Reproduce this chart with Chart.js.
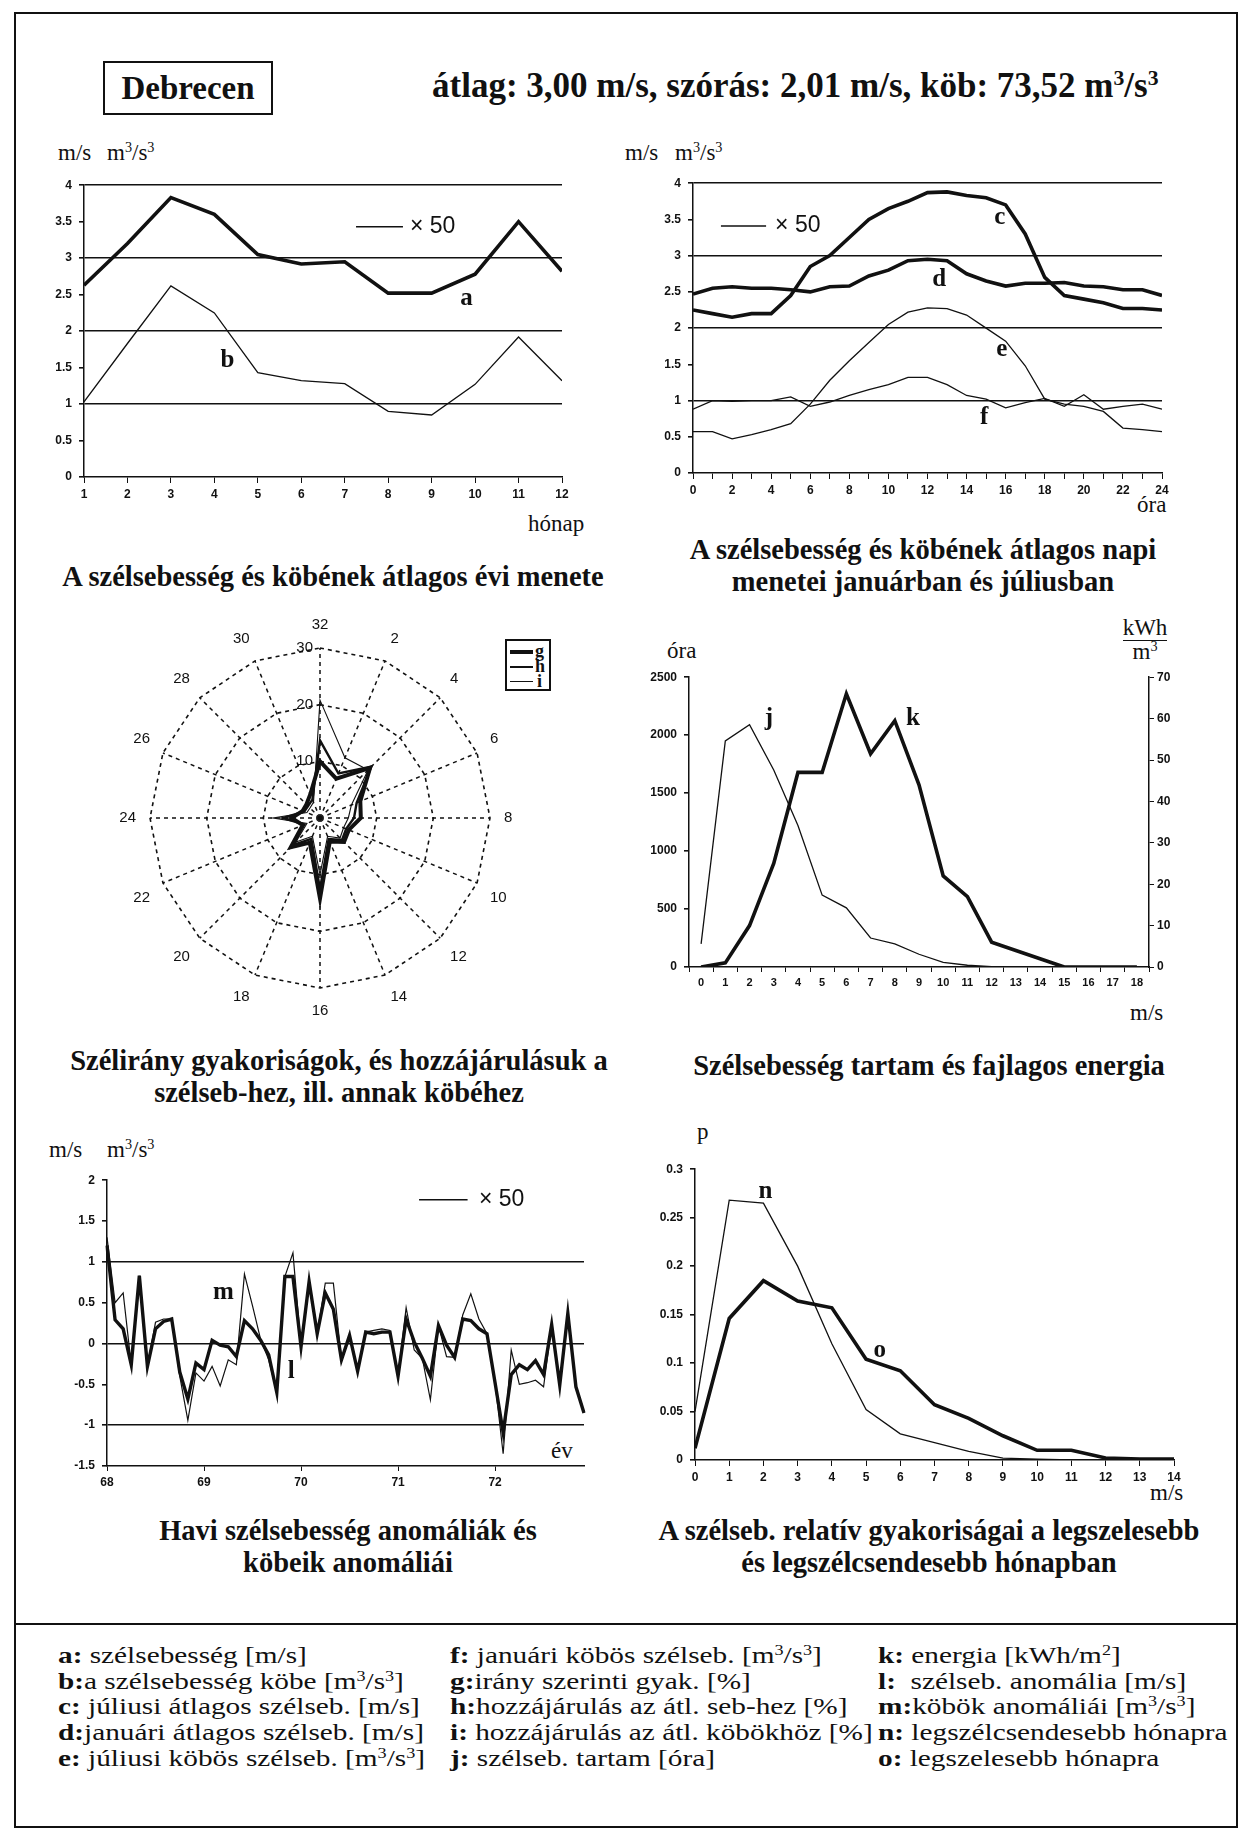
<!DOCTYPE html>
<html>
<head>
<meta charset="utf-8">
<script src="https://cdn.jsdelivr.net/npm/chart.js@4/dist/chart.umd.min.js"></script>
<style>
  body { margin: 0; background: #fff; }
  #page { position: relative; width: 1244px; height: 1832px; background: #fff; color: #111;
          font-family: "Liberation Serif", "DejaVu Serif", serif; overflow: hidden; }
  .box { position: absolute; }
  .t { position: absolute; white-space: nowrap; line-height: 1; }
  .cap { position: absolute; font-weight: bold; font-size: 28.5px; text-align: center; line-height: 31.5px; white-space: nowrap; }
  .unit { position: absolute; font-size: 23px; white-space: nowrap; line-height: 1; }
  sup { font-size: 0.62em; vertical-align: 0.55em; line-height: 0; }
  .leg { position: absolute; font-size: 24px; line-height: 25.7px; white-space: nowrap; transform: scaleX(1.22); transform-origin: 0 0; }
  .leg b { font-weight: bold; }
</style>
</head>
<body>
<div id="page">
  <div class="box" style="left:14px;top:12px;width:1220px;height:1812px;border:2px solid #111;"></div>
  <div class="box" style="left:14px;top:1623px;width:1222px;height:0;border-top:2px solid #111;"></div>

  <div class="box" style="left:103px;top:61px;width:166px;height:50px;border:2px solid #111;font-weight:bold;font-size:33px;line-height:50px;text-align:center;">Debrecen</div>
  <div class="t" style="left:432px;top:68px;font-weight:bold;font-size:35px;">átlag: 3,00 m/s, szórás: 2,01 m/s, köb: 73,52 m<sup>3</sup>/s<sup>3</sup></div>

  <!-- unit labels -->
  <div class="unit" style="left:58px;top:141px;">m/s</div>
  <div class="unit" style="left:107px;top:141px;">m<sup>3</sup>/s<sup>3</sup></div>
  <div class="unit" style="left:625px;top:141px;">m/s</div>
  <div class="unit" style="left:675px;top:141px;">m<sup>3</sup>/s<sup>3</sup></div>
  <div class="unit" style="left:528px;top:512px;">hónap</div>
  <div class="unit" style="left:1137px;top:493px;">óra</div>
  <div class="unit" style="left:667px;top:639px;">óra</div>
  <div class="unit" style="left:1114px;top:616px;text-align:center;width:62px;"><span style="border-bottom:1.5px solid #111;">kWh</span><br><span style="line-height:26px;">m<sup>3</sup></span></div>
  <div class="unit" style="left:1130px;top:1001px;">m/s</div>
  <div class="unit" style="left:49px;top:1138px;">m/s</div>
  <div class="unit" style="left:107px;top:1138px;">m<sup>3</sup>/s<sup>3</sup></div>
  <div class="unit" style="left:551px;top:1439px;">év</div>
  <div class="unit" style="left:697px;top:1120px;">p</div>
  <div class="unit" style="left:1150px;top:1481px;">m/s</div>

  <!-- captions -->
  <div class="cap" style="left:33px;width:600px;top:561px;">A szélsebesség és köbének átlagos évi menete</div>
  <div class="cap" style="left:623px;width:600px;top:534px;">A szélsebesség és köbének átlagos napi<br>menetei januárban és júliusban</div>
  <div class="cap" style="left:39px;width:600px;top:1045px;">Szélirány gyakoriságok, és hozzájárulásuk a<br>szélseb-hez, ill. annak köbéhez</div>
  <div class="cap" style="left:629px;width:600px;top:1050px;">Szélsebesség tartam és fajlagos energia</div>
  <div class="cap" style="left:48px;width:600px;top:1515px;">Havi szélsebesség anomáliák és<br>köbeik anomáliái</div>
  <div class="cap" style="left:629px;width:600px;top:1515px;">A szélseb. relatív gyakoriságai a legszelesebb<br>és legszélcsendesebb hónapban</div>

  <!-- radar legend -->
  <div class="box" style="left:505px;top:639px;width:42px;height:48px;border:2px solid #111;">
    <div class="box" style="left:3px;top:9px;width:23px;border-top:4px solid #111;"></div>
    <div class="box" style="left:3px;top:25px;width:23px;border-top:2.5px solid #111;"></div>
    <div class="box" style="left:3px;top:40px;width:23px;border-top:1.2px solid #111;"></div>
    <div class="t" style="left:28px;top:1px;font-weight:bold;font-size:18px;">g</div>
    <div class="t" style="left:28px;top:16px;font-weight:bold;font-size:18px;">h</div>
    <div class="t" style="left:30px;top:31px;font-weight:bold;font-size:18px;">i</div>
  </div>

  <!-- bottom legend -->
  <div class="leg" style="left:58px;top:1643px;">
    <b>a:</b> szélsebesség [m/s]<br>
    <b>b:</b>a szélsebesség köbe [m<sup>3</sup>/s<sup>3</sup>]<br>
    <b>c:</b> júliusi átlagos szélseb. [m/s]<br>
    <b>d:</b>januári átlagos szélseb. [m/s]<br>
    <b>e:</b> júliusi köbös szélseb. [m<sup>3</sup>/s<sup>3</sup>]
  </div>
  <div class="leg" style="left:450px;top:1643px;">
    <b>f:</b> januári köbös szélseb. [m<sup>3</sup>/s<sup>3</sup>]<br>
    <b>g:</b>irány szerinti gyak. [%]<br>
    <b>h:</b>hozzájárulás az átl. seb-hez [%]<br>
    <b>i:</b> hozzájárulás az átl. köbökhöz [%]<br>
    <b>j:</b> szélseb. tartam [óra]
  </div>
  <div class="leg" style="left:878px;top:1643px;">
    <b>k:</b> energia [kWh/m<sup>2</sup>]<br>
    <b>l:</b>&nbsp; szélseb. anomália [m/s]<br>
    <b>m:</b>köbök anomáliái [m<sup>3</sup>/s<sup>3</sup>]<br>
    <b>n:</b> legszélcsendesebb hónapra<br>
    <b>o:</b> legszelesebb hónapra
  </div>

  <div class="box" id="w1"><canvas id="c1"></canvas></div>
  <div class="box" id="w2"><canvas id="c2"></canvas></div>
  <div class="box" id="w3"><canvas id="c3"></canvas></div>
  <div class="box" id="w4"><canvas id="c4"></canvas></div>
  <div class="box" id="w5"><canvas id="c5"></canvas></div>
  <div class="box" id="w6"><canvas id="c6"></canvas></div>
</div>

<script>
// --- annual course (a, b)
const months = [1, 2, 3, 4, 5, 6, 7, 8, 9, 10, 11, 12];
const speedA = [2.63, 3.2, 3.83, 3.6, 3.05, 2.92, 2.95, 2.52, 2.52, 2.78, 3.5, 2.82];
const cubeB = [1.03, 1.83, 2.62, 2.25, 1.43, 1.32, 1.28, 0.9, 0.85, 1.27, 1.92, 1.32];

// --- daily course, January / July (c, d, e, f)
const hours = [0, 1, 2, 3, 4, 5, 6, 7, 8, 9, 10, 11, 12, 13, 14, 15, 16, 17, 18, 19, 20, 21, 22, 23, 24];
const julySpeedC = [2.25, 2.2, 2.15, 2.2, 2.2, 2.45, 2.85, 3.0, 3.25, 3.5, 3.65, 3.75, 3.87, 3.88, 3.83, 3.8, 3.7, 3.3, 2.7, 2.45, 2.4, 2.35, 2.27, 2.27, 2.25];
const janSpeedD = [2.47, 2.55, 2.57, 2.55, 2.55, 2.53, 2.5, 2.57, 2.58, 2.72, 2.8, 2.93, 2.95, 2.93, 2.75, 2.65, 2.58, 2.62, 2.62, 2.63, 2.58, 2.57, 2.53, 2.53, 2.45];
const julyCubeE = [0.57, 0.57, 0.47, 0.53, 0.6, 0.68, 0.95, 1.28, 1.55, 1.8, 2.05, 2.22, 2.28, 2.27, 2.18, 2.0, 1.82, 1.48, 1.02, 0.95, 0.92, 0.85, 0.62, 0.6, 0.57];
const janCubeF = [0.88, 1.0, 0.99, 1.0, 1.0, 1.05, 0.92, 0.98, 1.07, 1.15, 1.22, 1.32, 1.32, 1.22, 1.07, 1.02, 0.9, 0.97, 1.03, 0.92, 1.08, 0.88, 0.92, 0.95, 0.88];

// --- wind directions (g, h, i), %
const dirLabels = ['32', '2', '4', '6', '8', '10', '12', '14', '16', '18', '20', '22', '24', '26', '28', '30'];
const dirFreqG = [10, 7.5, 12.5, 7.7, 7.2, 5.5, 6, 4.5, 14.2, 4.7, 7.3, 3.3, 5, 3.3, 3.4, 4.5];
const dirSpeedH = [13.7, 8.5, 12.8, 7, 6, 5, 5.5, 4, 12.5, 4, 6.8, 3, 6.5, 3, 3, 3.5];
const dirCubeI = [20.8, 11.5, 12, 6, 5, 4.5, 5, 3.5, 10, 3.5, 6, 2.5, 8.3, 2.5, 2.5, 3];
const radarTicks = [10, 20, 30];

// --- duration (j, hours) and specific energy (k)
const speedClasses = ['0', '1', '2', '3', '4', '5', '6', '7', '8', '9', '10', '11', '12', '13', '14', '15', '16', '17', '18'];
const durationJ = [200, 1950, 2090, 1700, 1220, 620, 510, 250, 200, 110, 40, 15, 3, null, null, null, null, null, null];
const energyK = [0, 1, 10, 25, 47, 47, 66, 51.5, 59.5, 44, 22, 17, 6, 4, 2, 0, 0, 0, 0];

// --- monthly anomalies 1968-1972 (l, m)
const yearTicks = ['68', '69', '70', '71', '72'];
const anomalyMonths = [];
yearTicks.forEach(y => { for (let m = 1; m <= 12; m++) anomalyMonths.push(y + '.' + m); });
const anomalyL = [1.2, 0.29, 0.18, -0.26, 0.83, -0.28, 0.18, 0.27, 0.3, -0.35, -0.68, -0.24, -0.32, 0.04, -0.02, -0.04, -0.16, 0.28, 0.18, 0.04, -0.14, -0.6, 0.82, 0.82, -0.04, 0.76, 0.12, 0.62, 0.42, -0.2, 0.1, -0.34, 0.14, 0.12, 0.14, 0.14, -0.4, 0.3, 0.02, -0.18, -0.4, 0.22, -0.02, -0.17, 0.3, 0.28, 0.18, 0.12, -0.48, -1.09, -0.38, -0.26, -0.32, -0.21, -0.38, 0.23, -0.51, 0.37, -0.53, -0.85];
const anomalyM = [1.3, 0.5, 0.62, -0.26, 0.83, -0.28, 0.26, 0.3, 0.3, -0.4, -0.94, -0.36, -0.46, -0.28, -0.52, -0.2, -0.26, 0.85, 0.46, 0.05, -0.2, -0.6, 0.82, 1.11, -0.04, 0.76, 0.12, 0.74, 0.74, -0.2, 0.1, -0.34, 0.14, 0.16, 0.18, 0.16, -0.4, 0.44, -0.08, -0.18, -0.69, 0.22, -0.16, -0.17, 0.35, 0.61, 0.3, 0.12, -0.48, -1.35, -0.08, -0.5, -0.48, -0.45, -0.53, 0.23, -0.51, 0.37, -0.55, -0.85];

// --- relative frequencies (n calmest month, o windiest month)
const probSpeeds = [0, 1, 2, 3, 4, 5, 6, 7, 8, 9, 10, 11, 12, 13, 14];
const calmestN = [0.05, 0.268, 0.265, 0.2, 0.12, 0.052, 0.027, 0.018, 0.009, 0.002, 0.001, 0, 0, 0, 0];
const windiestO = [0.012, 0.146, 0.185, 0.164, 0.157, 0.104, 0.092, 0.057, 0.043, 0.025, 0.01, 0.01, 0.002, 0.001, 0.001];

const INK = '#111';
const tickFont = { family: '"Liberation Sans", Arial, sans-serif', size: 12, weight: 'bold' };
const keyFont = '23px "Liberation Sans", Arial, sans-serif';
Chart.defaults.color = INK;
Chart.defaults.animation = false;
Chart.defaults.plugins.legend.display = false;
Chart.defaults.plugins.tooltip.enabled = false;
Chart.defaults.elements.point.radius = 0;
Chart.defaults.elements.line.tension = 0;

const num = v => String(Math.round(v * 100) / 100);

// letters and "x 50" keys drawn in data coordinates
const tagPlugin = {
  id: 'tags',
  afterDatasetsDraw(chart, args, opts) {
    if (!opts.items) return;
    const ctx = chart.ctx;
    const xs = chart.scales.x;
    opts.items.forEach(it => {
      const ys = chart.scales[it.axis || 'y'];
      const px = xs.getPixelForValue(it.x), py = ys.getPixelForValue(it.y);
      ctx.save();
      ctx.fillStyle = INK; ctx.strokeStyle = INK;
      if (it.x2 !== undefined) {
        ctx.lineWidth = 1.5;
        ctx.beginPath(); ctx.moveTo(px, py); ctx.lineTo(xs.getPixelForValue(it.x2), py); ctx.stroke();
      } else {
        ctx.font = it.font || 'bold 25px "Liberation Serif", serif';
        ctx.textAlign = it.align || 'center';
        ctx.textBaseline = 'middle';
        ctx.fillText(it.text, px, py);
      }
      ctx.restore();
    });
  }
};

// ring values written left of the north spoke
const radarTickPlugin = {
  id: 'radarTicks',
  afterDraw(chart, args, opts) {
    if (!opts.values) return;
    const r = chart.scales.r, ctx = chart.ctx;
    ctx.save();
    ctx.font = '15px "Liberation Sans", Arial, sans-serif';
    ctx.fillStyle = INK; ctx.textAlign = 'right'; ctx.textBaseline = 'middle';
    opts.values.forEach(v => {
      const p = r.getPointPositionForValue(0, v);
      ctx.fillText(String(v), p.x - 7, p.y);
    });
    ctx.restore();
  }
};
Chart.register(tagPlugin, radarTickPlugin);

// place a canvas so the chart area lands on [l, t, r, b]
function place(id, l, t, r, b, m) {
  const w = document.getElementById(id);
  w.style.left = (l - m.l) + 'px';
  w.style.top = (t - m.t) + 'px';
  w.style.width = (r - l + m.l + m.r) + 'px';
  w.style.height = (b - t + m.t + m.b) + 'px';
}
const fixW = v => s => { s.width = v; };
const fixH = v => s => { s.height = v; };
const pts = (xs, ys) => ys.map((v, i) => ({ x: xs[i], y: v }));

function yAxis(min, max, step, w, lines) {
  return {
    min: min, max: max,
    afterFit: fixW(w),
    border: { color: INK, width: 1.5 },
    grid: {
      color: c => (c.tick && lines.includes(c.tick.value)) ? INK : 'rgba(0,0,0,0)',
      lineWidth: 1.6, tickColor: INK, tickLength: 5
    },
    ticks: { stepSize: step, font: tickFont, padding: 7, callback: num }
  };
}
function xLinear(min, max, every) {
  return {
    type: 'linear', min: min, max: max, afterFit: fixH(30),
    border: { color: INK, width: 1.5 },
    grid: { drawOnChartArea: false, tickColor: INK, tickLength: 6 },
    ticks: { stepSize: 1, autoSkip: false, maxRotation: 0, font: tickFont, padding: 4,
             callback: v => (v % every === 0 ? String(v) : '') }
  };
}

// 1. annual course
place('w1', 84, 181, 562, 477, { l: 44, t: 10, r: 14, b: 30 });
new Chart(document.getElementById('c1'), {
  type: 'line',
  data: {
    datasets: [
      { data: pts(months, speedA), borderColor: INK, borderWidth: 3.6 },
      { data: pts(months, cubeB), borderColor: INK, borderWidth: 1.3 }
    ]
  },
  options: {
    responsive: true, maintainAspectRatio: false,
    layout: { padding: { top: 10, right: 14 } },
    scales: { x: xLinear(1, 12, 1), y: yAxis(0, 4, 0.5, 44, [1, 2, 3, 4]) },
    plugins: {
      tags: { items: [
        { text: 'a', x: 9.8, y: 2.45 },
        { text: 'b', x: 4.3, y: 1.6 },
        { x: 7.26, x2: 8.34, y: 3.43 },
        { text: '× 50', x: 8.5, y: 3.43, align: 'left', font: keyFont }
      ] }
    }
  }
});

// 2. daily course
place('w2', 693, 179, 1162, 473, { l: 40, t: 10, r: 14, b: 30 });
new Chart(document.getElementById('c2'), {
  type: 'line',
  data: {
    datasets: [
      { data: pts(hours, julySpeedC), borderColor: INK, borderWidth: 3.6 },
      { data: pts(hours, janSpeedD), borderColor: INK, borderWidth: 3.6 },
      { data: pts(hours, julyCubeE), borderColor: INK, borderWidth: 1.3 },
      { data: pts(hours, janCubeF), borderColor: INK, borderWidth: 1.3 }
    ]
  },
  options: {
    responsive: true, maintainAspectRatio: false,
    layout: { padding: { top: 10, right: 14 } },
    scales: { x: xLinear(0, 24, 2), y: yAxis(0, 4, 0.5, 40, [1, 2, 3, 4]) },
    plugins: {
      tags: { items: [
        { text: 'c', x: 15.7, y: 3.52 },
        { text: 'd', x: 12.6, y: 2.67 },
        { text: 'e', x: 15.8, y: 1.7 },
        { text: 'f', x: 14.9, y: 0.76 },
        { x: 1.43, x2: 3.74, y: 3.41 },
        { text: '× 50', x: 4.2, y: 3.41, align: 'left', font: keyFont }
      ] }
    }
  }
});

// 3. wind direction radar
const radarSize = 404;
(function () {
  const w = document.getElementById('w3');
  w.style.left = (316 - radarSize / 2) + 'px';
  w.style.top = (818 - radarSize / 2) + 'px';
  w.style.width = radarSize + 'px';
  w.style.height = radarSize + 'px';
})();
new Chart(document.getElementById('c3'), {
  type: 'radar',
  data: {
    labels: dirLabels,
    datasets: [
      { data: dirFreqG, borderColor: INK, borderWidth: 4, fill: false },
      { data: dirSpeedH, borderColor: INK, borderWidth: 2.4, fill: false },
      { data: dirCubeI, borderColor: INK, borderWidth: 1.1, fill: false }
    ]
  },
  options: {
    responsive: true, maintainAspectRatio: false,
    elements: { line: { borderJoinStyle: 'miter' } },
    scales: {
      r: {
        min: 0, max: 30,
        angleLines: { color: INK, lineWidth: 1.5, borderDash: [4, 4] },
        grid: { color: INK, lineWidth: 1.6, borderDash: [4, 4], circular: false },
        border: { dash: [4, 4] },
        pointLabels: { font: { family: '"Liberation Sans", Arial, sans-serif', size: 15 }, padding: 14, color: INK },
        ticks: { stepSize: 10, display: false }
      }
    },
    plugins: { radarTicks: { values: radarTicks } }
  }
});

// 4. duration and energy
place('w4', 689, 673, 1149, 967, { l: 50, t: 10, r: 36, b: 30 });
new Chart(document.getElementById('c4'), {
  type: 'line',
  data: {
    labels: speedClasses,
    datasets: [
      { data: durationJ, borderColor: INK, borderWidth: 1.3, yAxisID: 'y' },
      { data: energyK, borderColor: INK, borderWidth: 3.6, yAxisID: 'y2' }
    ]
  },
  options: {
    responsive: true, maintainAspectRatio: false,
    layout: { padding: { top: 10 } },
    scales: {
      x: {
        offset: true, afterFit: fixH(30),
        border: { color: INK, width: 1.5 },
        grid: { offset: true, drawOnChartArea: false, tickColor: INK, tickLength: 5 },
        ticks: { autoSkip: false, maxRotation: 0, font: { ...tickFont, size: 11 }, padding: 4 }
      },
      y: yAxis(0, 2500, 500, 50, []),
      y2: {
        position: 'right', min: 0, max: 70, afterFit: fixW(36),
        border: { color: INK, width: 1.5 },
        grid: { drawOnChartArea: false, tickColor: INK, tickLength: 5 },
        ticks: { stepSize: 10, font: tickFont, padding: 3 }
      }
    },
    plugins: {
      tags: { items: [
        { text: 'j', x: 2.8, y: 2140 },
        { text: 'k', x: 8.75, y: 2140 }
      ] }
    }
  }
});

// 5. monthly anomalies
place('w5', 107, 1176, 584, 1466, { l: 40, t: 10, r: 10, b: 30 });
new Chart(document.getElementById('c5'), {
  type: 'line',
  data: {
    labels: anomalyMonths,
    datasets: [
      { data: anomalyL, borderColor: INK, borderWidth: 3.4 },
      { data: anomalyM, borderColor: INK, borderWidth: 1.2 }
    ]
  },
  options: {
    responsive: true, maintainAspectRatio: false,
    layout: { padding: { top: 10, right: 10 } },
    scales: {
      x: {
        afterFit: fixH(30),
        border: { color: INK, width: 1.5 },
        grid: { drawOnChartArea: false, tickLength: 5,
                tickColor: c => (c.index % 12 === 0 ? INK : 'rgba(0,0,0,0)') },
        ticks: { autoSkip: false, maxRotation: 0, font: tickFont, padding: 4,
                 callback: (v, i) => (i % 12 === 0 ? yearTicks[i / 12] : '') }
      },
      y: yAxis(-1.5, 2, 0.5, 40, [-1, 0, 1])
    },
    plugins: {
      tags: { items: [
        { text: 'm', x: 14.4, y: 0.62 },
        { text: 'l', x: 22.8, y: -0.34 },
        { x: 38.6, x2: 44.6, y: 1.76 },
        { text: '× 50', x: 46, y: 1.76, align: 'left', font: keyFont }
      ] }
    }
  }
});

// 6. relative frequencies
place('w6', 695, 1165, 1174, 1460, { l: 46, t: 10, r: 14, b: 30 });
new Chart(document.getElementById('c6'), {
  type: 'line',
  data: {
    datasets: [
      { data: pts(probSpeeds, calmestN), borderColor: INK, borderWidth: 1.3 },
      { data: pts(probSpeeds, windiestO), borderColor: INK, borderWidth: 3.6 }
    ]
  },
  options: {
    responsive: true, maintainAspectRatio: false,
    layout: { padding: { top: 10, right: 14 } },
    scales: { x: xLinear(0, 14, 1), y: yAxis(0, 0.3, 0.05, 46, []) },
    plugins: {
      tags: { items: [
        { text: 'n', x: 2.06, y: 0.277 },
        { text: 'o', x: 5.4, y: 0.113 }
      ] }
    }
  }
});
</script>
</body>
</html>
